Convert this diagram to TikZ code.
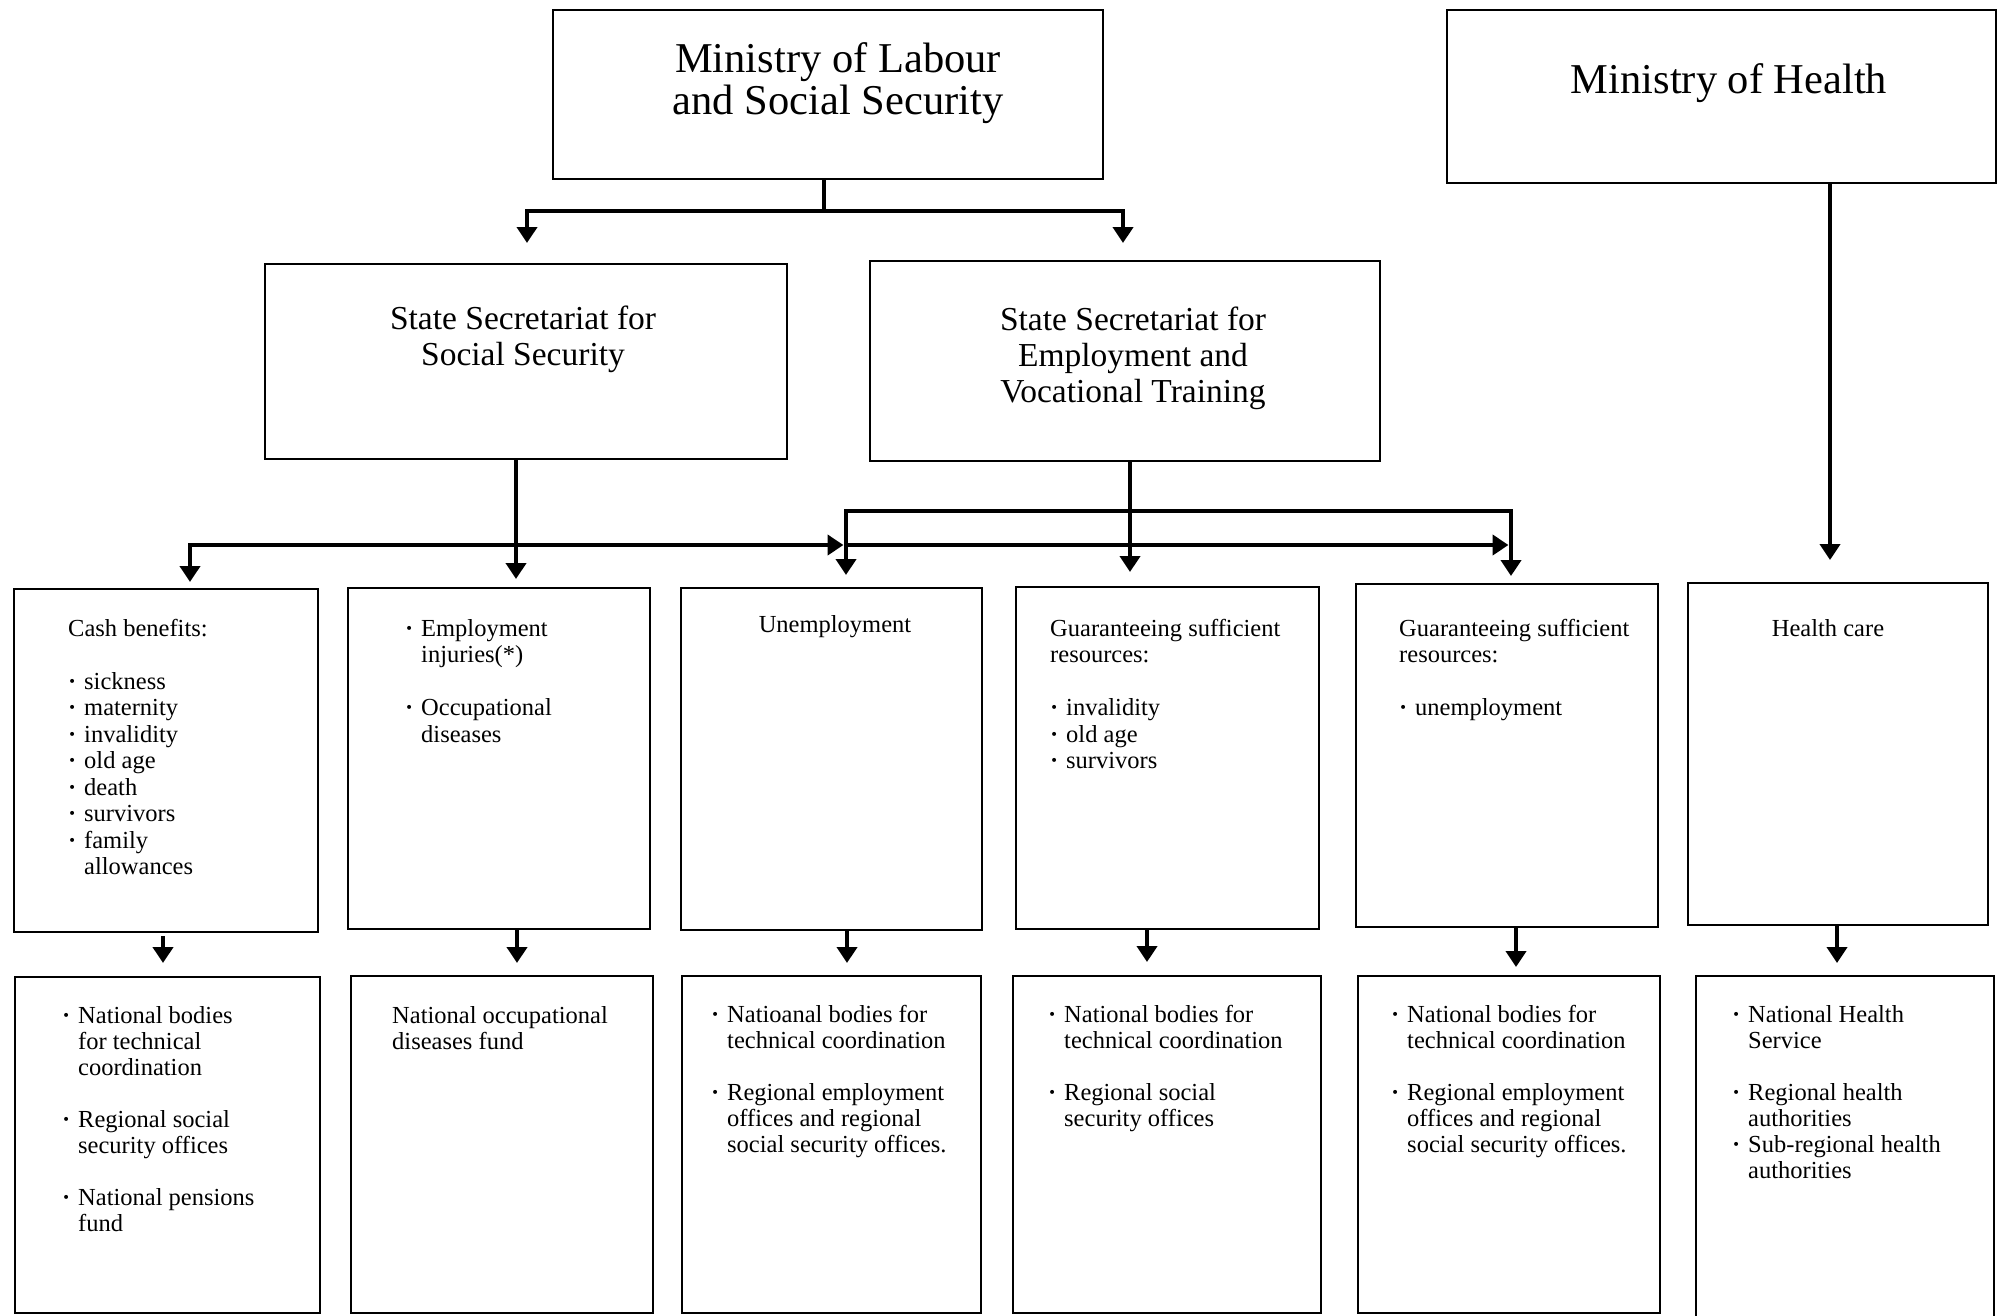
\documentclass[tikz,border=0pt]{standalone}
\usepackage{fontspec}
\setmainfont{Liberation Serif}
\usetikzlibrary{arrows.meta}

% lines of text stacked with a fixed baseline distance; first baseline is the node base
\newcommand{\lstack}[2]{\vtop{\baselineskip=#1\lineskiplimit=-100pt\halign{##\hfil\cr#2\crcr}}}
\newcommand{\cstack}[2]{\vtop{\baselineskip=#1\lineskiplimit=-100pt\halign{\hfil##\hfil\cr#2\crcr}}}
\newcommand{\bu}{\makebox[16pt][l]{\textbf{·}}}
\newcommand{\hangin}{\hspace*{16pt}}

\tikzset{
  box/.style={draw, line width=2.4pt, inner sep=0pt, outer sep=0pt, anchor=north west},
  bus/.style={line width=4.5pt, line join=miter},
  drop/.style={line width=4pt},
  >={Triangle[width=20pt,length=16pt]},
  big/.style={font=\fontsize{42.5pt}{42pt}\selectfont, inner sep=0pt, anchor=base},
  mid/.style={font=\fontsize{33.5pt}{36pt}\selectfont, inner sep=0pt, anchor=base},
  small/.style={font=\fontsize{24.5pt}{26pt}\selectfont, inner sep=0pt, anchor=base west},
  smallc/.style={font=\fontsize{24.5pt}{26pt}\selectfont, inner sep=0pt, anchor=base},
}

\begin{document}
\begin{tikzpicture}[x=1pt, y=-1pt]
\useasboundingbox (0,0) rectangle (2001,1316);

% ministries
\node[box, minimum width=550pt, minimum height=169pt] (mlss) at (553,10) {};
\node[box, minimum width=549pt, minimum height=173pt] (moh) at (1447,10) {};
\node[big] (mlssT) at (838,73) {\cstack{42pt}{Ministry of Labour\cr and Social Security}};
\node[big] (mohT) at (1729,94) {Ministry of Health};

% state secretariats
\node[box, minimum width=522pt, minimum height=195pt] (ssss) at (265,264) {};
\node[box, minimum width=510pt, minimum height=200pt] (ssevt) at (870,261) {};
\node[mid] (ssssT) at (523,329) {\cstack{36.5pt}{State Secretariat for\cr Social Security}};
\node[mid] (ssevtT) at (1133,330) {\cstack{36pt}{State Secretariat for\cr Employment and\cr Vocational Training}};

% benefit branches
\node[box, minimum width=304pt, minimum height=343pt] (c1) at (14,589) {};
\node[box, minimum width=302pt, minimum height=341pt] (c2) at (348,588) {};
\node[box, minimum width=301pt, minimum height=342pt] (c3) at (681,588) {};
\node[box, minimum width=303pt, minimum height=342pt] (c4) at (1016,587) {};
\node[box, minimum width=302pt, minimum height=343pt] (c5) at (1356,584) {};
\node[box, minimum width=300pt, minimum height=342pt] (c6) at (1688,583) {};

\node[small] (c1T) at (68,636) {\lstack{26.5pt}{Cash benefits:\cr\cr
  \bu sickness\cr \bu maternity\cr \bu invalidity\cr \bu old age\cr
  \bu death\cr \bu survivors\cr \bu family\cr \hangin allowances}};
\node[small] (c2T) at (405,636) {\lstack{26.5pt}{\bu Employment\cr \hangin injuries(*)\cr\cr
  \bu Occupational\cr \hangin diseases}};
\node[smallc] (c3T) at (835,632) {Unemployment};
\node[small] (c4T) at (1050,636) {\lstack{26.5pt}{Guaranteeing sufficient\cr resources:\cr\cr
  \bu invalidity\cr \bu old age\cr \bu survivors}};
\node[small] (c5T) at (1399,636) {\lstack{26.5pt}{Guaranteeing sufficient\cr resources:\cr\cr
  \bu unemployment}};
\node[smallc] (c6T) at (1828,636) {Health care};

% administering bodies
\node[box, minimum width=305pt, minimum height=336pt] (d1) at (15,977) {};
\node[box, minimum width=302pt, minimum height=337pt] (d2) at (351,976) {};
\node[box, minimum width=299pt, minimum height=337pt] (d3) at (682,976) {};
\node[box, minimum width=308pt, minimum height=337pt] (d4) at (1013,976) {};
\node[box, minimum width=302pt, minimum height=337pt] (d5) at (1358,976) {};
\node[box, minimum width=298pt, minimum height=360pt] (d6) at (1696,976) {};

\node[small] (d1T) at (62,1023) {\lstack{26pt}{\bu National bodies\cr \hangin for technical\cr
  \hangin coordination\cr\cr \bu Regional social\cr \hangin security offices\cr\cr
  \bu National pensions\cr \hangin fund}};
\node[small] (d2T) at (392,1023) {\lstack{26pt}{National occupational\cr diseases fund}};
\node[small] (d3T) at (711,1022) {\lstack{26pt}{\bu Natioanal bodies for\cr \hangin technical coordination\cr\cr
  \bu Regional employment\cr \hangin offices and regional\cr \hangin social security offices.}};
\node[small] (d4T) at (1048,1022) {\lstack{26pt}{\bu National bodies for\cr \hangin technical coordination\cr\cr
  \bu Regional social\cr \hangin security offices}};
\node[small] (d5T) at (1391,1022) {\lstack{26pt}{\bu National bodies for\cr \hangin technical coordination\cr\cr
  \bu Regional employment\cr \hangin offices and regional\cr \hangin social security offices.}};
\node[small] (d6T) at (1732,1022) {\lstack{26pt}{\bu National Health\cr \hangin Service\cr\cr
  \bu Regional health\cr \hangin authorities\cr \bu Sub-regional health\cr \hangin authorities}};

% junctions and arrow ends
\coordinate (jA) at (824,211);
\coordinate (tA1) at (527,243);
\coordinate (tA2) at (1123,243);
\coordinate (jB) at (516,545);
\coordinate (tB1) at (190,582);
\coordinate (tB2) at (516,579);
\coordinate (jC1) at (846,545);
\coordinate (jC2) at (1511,545);
\coordinate (rC1) at (843.5,545);
\coordinate (rC2) at (1508.5,545);
\coordinate (uR) at (1511,511);
\coordinate (tC1) at (846,575);
\coordinate (tC2) at (1511,576);
\coordinate (tD) at (1130,572);
\coordinate (tE) at (1830,560);

% ministry of labour to its two secretariats
\draw[bus] (mlss.south -| jA) -- (jA);
\draw[bus,->] (jA) -| (tA1);
\draw[bus,->] (jA) -| (tA2);

% social security secretariat
\draw[bus,->] (ssss.south -| tB2) -- (tB2);
\draw[bus,->] (jB) -| (tB1);
\draw[bus,->] (jB) -- (rC1);
\draw[bus,->] (jC1) -- (rC2);

% employment secretariat
\draw[bus,<->] (tC1) |- (uR) -- (tC2);
\draw[bus,->] (ssevt.south -| tD) -- (tD);

% ministry of health
\draw[bus,->] (moh.south -| tE) -- (tE);

% branches to administering bodies
\coordinate (a1) at (163,963);
\coordinate (a2) at (517,963);
\coordinate (a3) at (847,963);
\coordinate (a4) at (1147,962);
\coordinate (a5) at (1516,967);
\coordinate (a6) at (1837,963);
\draw[drop,->,shorten <=4pt] (c1.south -| a1) -- (a1);
\draw[drop,->] (c2.south -| a2) -- (a2);
\draw[drop,->] (c3.south -| a3) -- (a3);
\draw[drop,->] (c4.south -| a4) -- (a4);
\draw[drop,->] (c5.south -| a5) -- (a5);
\draw[drop,->] (c6.south -| a6) -- (a6);
\end{tikzpicture}
\end{document}
